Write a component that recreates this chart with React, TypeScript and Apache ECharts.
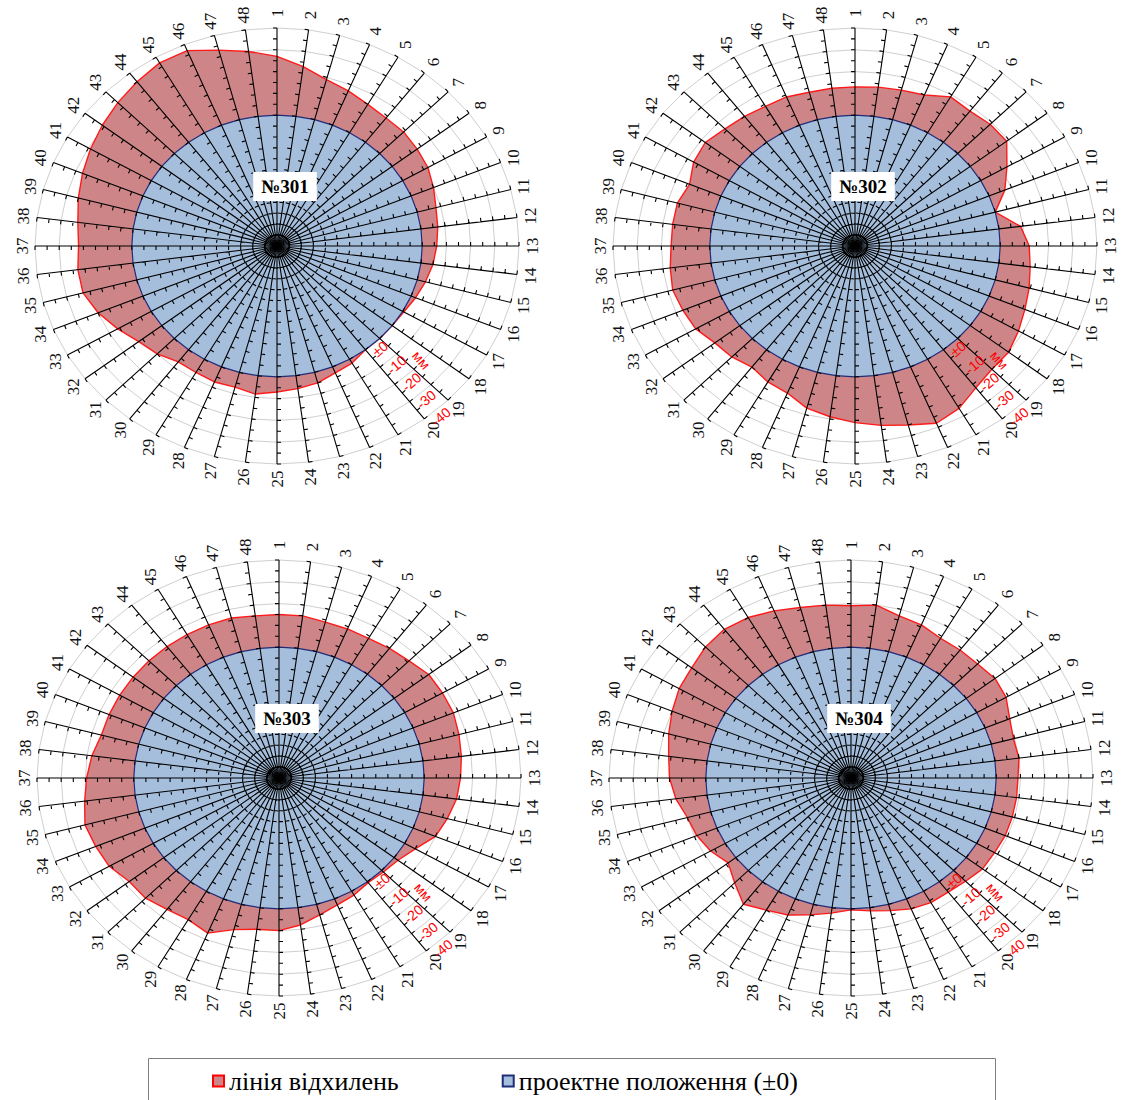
import React, { useEffect, useRef } from "react";
import * as echarts from "echarts";

// Measurement points around the section, clockwise from the top
const POINT_LABELS = [
  "1", "2", "3", "4", "5", "6", "7", "8", "9", "10", "11", "12",
  "13", "14", "15", "16", "17", "18", "19", "20", "21", "22", "23", "24",
  "25", "26", "27", "28", "29", "30", "31", "32", "33", "34", "35", "36",
  "37", "38", "39", "40", "41", "42", "43", "44", "45", "46", "47", "48",
];

// Radial value scale, mm: +60 at the centre, -40 on the rim
const VALUE_AT_CENTRE = 60;
const VALUE_AT_RIM = -40;
const RING_VALUES = [50, 40, 30, 20, 10, 0, -10, -20, -30, -40];
const TICK_VALUES = [55, 50, 45, 40, 35, 30, 25, 20, 15, 10, 5, 0, -5, -10, -15, -20, -25, -30, -35, -40];
const SCALE_VALUES = [0, -10, -20, -30, -40];
const SCALE_LABELS = ["±0", "-10", "-20", "-30", "-40"];
const SCALE_UNIT = "мм";
const SCALE_SPOKE = "20";

// Design position (±0) at every point
const DESIGN = [
  0, 0, 0, 0, 0, 0, 0, 0, 0, 0, 0, 0,
  0, 0, 0, 0, 0, 0, 0, 0, 0, 0, 0, 0,
  0, 0, 0, 0, 0, 0, 0, 0, 0, 0, 0, 0,
  0, 0, 0, 0, 0, 0, 0, 0, 0, 0, 0, 0,
];

// Measured deviations, mm, points 1..48
const DEV_301 = [
  -27, -23, -19, -17, -15, -14, -14, -13, -12, -10, -8, -7,
  -6, -5, -3.5, -2, -0.5, 0, 0, 0, -2, -3, -5, -6,
  -7, -8.5, -7, -7.5, -7, -7, -10, -12, -16, -20, -23, -23,
  -22, -23, -25, -27, -29, -31, -33, -35, -37, -37, -33, -30,
];
const DEV_302 = [
  -13, -13.5, -14, -15, -19, -18, -19, -19, -12.5, -7, 0, -9,
  -12, -13, -14.5, -16, -18, -20, -20, -22, -26, -28, -25, -23,
  -21, -19, -17, -13, -12, -10, -12, -13, -16, -17, -18, -17,
  -16, -16, -16, -14, -17, -18, -16, -15, -14, -14, -13, -13,
];
const DEV_303 = [
  -15, -15, -14, -14, -14, -15, -16, -18, -18, -18, -17, -16,
  -15, -14, -12, -10, -5, -2, -1, -0.5, -2, -3, -5, -8,
  -10, -10, -12, -17, -15, -16, -18, -18, -21, -22, -23, -21,
  -19.5, -18, -16, -16, -16, -16, -16, -16, -16, -16, -16, -15,
];
const DEV_304 = [
  -19, -20, -17, -16, -14, -14, -14, -15, -14, -11, -9.5, -10,
  -9, -9, -9, -9, -8.5, -8.5, -7, -6, -6, -5, -3, -1.5,
  -0.5, -2.5, -5, -8, -10, -13, -8, -4, -7, -9, -10, -13,
  -15, -16, -18, -20, -22, -23, -25, -26, -25, -23, -21, -20,
];

const TITLES = ["№301", "№302", "№303", "№304"];
const DEVIATIONS = [DEV_301, DEV_302, DEV_303, DEV_304];

const SERIES_DEV = "лінія відхилень";
const SERIES_DESIGN = "проектне положення (±0)";

// Layout (pixels)
const CENTRES = [
  [277, 246],
  [855, 246],
  [279, 778],
  [851, 778],
];
const RX = 242;
const RY = 218;
const TICK_LEN = 4;

const RED_FILL = "#CE8587";
const RED_LINE = "#FF1A1A";
const BLUE_FILL = "#A5BEDC";
const BLUE_LINE = "#1F2C78";
const SERIF = "Liberation Serif";
const SANS = "Liberation Sans";

const SPAN = VALUE_AT_CENTRE - VALUE_AT_RIM;

// value on spoke i -> data coordinates of the cartesian helper grid
function toXY(i: number, v: number): number[] {
  const rho = VALUE_AT_CENTRE - v;
  const a = (i * 2 * Math.PI) / POINT_LABELS.length;
  return [rho * Math.sin(a), rho * Math.cos(a)];
}

function spokeFrame(api: any, i: number) {
  const c = api.coord([0, 0]);
  const o = api.coord(toXY(i, VALUE_AT_RIM));
  const dx = o[0] - c[0];
  const dy = o[1] - c[1];
  const len = Math.hypot(dx, dy);
  const ux = dx / len;
  const uy = dy / len;
  return { c, o, ux, uy, px: uy, py: -ux };
}

function polygonSeries(name: string, values: number[], k: number, fill: string, stroke: string, width: number, z: number) {
  return {
    type: "custom",
    name,
    xAxisIndex: k,
    yAxisIndex: k,
    z,
    silent: true,
    itemStyle: { color: fill },
    data: values.map((v, i) => [i, v]),
    renderItem: (params: any, api: any) => {
      if (params.dataIndex !== 0) return null;
      const pts = values.map((v, i) => api.coord(toXY(i, v)));
      return {
        type: "polygon",
        shape: { points: pts },
        style: { fill, stroke, lineWidth: width, lineJoin: "round" },
      };
    },
  };
}

function buildOption() {
  const grid: any[] = [];
  const xAxis: any[] = [];
  const yAxis: any[] = [];
  const series: any[] = [];
  const title: any[] = [];

  CENTRES.forEach(([cx, cy], k) => {
    grid.push({
      left: cx - RX,
      top: cy - RY,
      width: 2 * RX,
      height: 2 * RY,
      containLabel: false,
      outerBoundsMode: "none",
    });
    xAxis.push({ gridIndex: k, type: "value", min: -SPAN, max: SPAN, show: false });
    yAxis.push({ gridIndex: k, type: "value", min: -SPAN, max: SPAN, show: false });

    // grey rings every 10 mm
    series.push({
      type: "custom",
      xAxisIndex: k,
      yAxisIndex: k,
      z: 1,
      silent: true,
      data: RING_VALUES.map((v) => [0, v]),
      renderItem: (params: any, api: any) => {
        const v = RING_VALUES[params.dataIndex];
        const pts = POINT_LABELS.map((_, i) => api.coord(toXY(i, v)));
        return {
          type: "polygon",
          shape: { points: pts },
          style: { fill: "none", stroke: "#CFCFCF", lineWidth: 1 },
        };
      },
    });

    series.push(polygonSeries(SERIES_DEV, DEVIATIONS[k], k, RED_FILL, RED_LINE, 1.4, 2));
    series.push(polygonSeries(SERIES_DESIGN, DESIGN, k, BLUE_FILL, BLUE_LINE, 1.2, 3));

    // spokes with 5 mm ticks and point numbers
    series.push({
      type: "custom",
      xAxisIndex: k,
      yAxisIndex: k,
      z: 4,
      silent: true,
      data: POINT_LABELS.map((_, i) => [i, 0]),
      renderItem: (params: any, api: any) => {
        const i = params.dataIndex;
        const f = spokeFrame(api, i);
        let d = `M${f.c[0]} ${f.c[1]}L${f.o[0]} ${f.o[1]}`;
        TICK_VALUES.forEach((t) => {
          const p = api.coord(toXY(i, t));
          d += `M${p[0]} ${p[1]}l${f.px * TICK_LEN} ${f.py * TICK_LEN}`;
        });
        const gap = 13 + Math.abs(f.uy) * 2;
        return {
          type: "group",
          children: [
            {
              type: "path",
              shape: { pathData: d },
              style: { fill: "none", stroke: "#000", lineWidth: 1.1 },
            },
            {
              type: "text",
              x: f.o[0] + f.ux * gap,
              y: f.o[1] + f.uy * gap,
              rotation: Math.PI / 2,
              style: {
                text: POINT_LABELS[i],
                fill: "#111",
                fontSize: 17,
                fontFamily: SERIF,
                align: "center",
                verticalAlign: "middle",
              },
            },
          ],
        };
      },
    });

    // radial scale on one spoke
    series.push({
      type: "custom",
      xAxisIndex: k,
      yAxisIndex: k,
      z: 5,
      silent: true,
      data: SCALE_VALUES.map((v) => [0, v]),
      renderItem: (params: any, api: any) => {
        const idx = params.dataIndex;
        const i = POINT_LABELS.indexOf(SCALE_SPOKE);
        const f = spokeFrame(api, i);
        const phi = Math.atan2(-f.uy, f.ux);
        const q = api.coord(toXY(i, SCALE_VALUES[idx]));
        const children: any[] = [
          {
            type: "text",
            x: q[0] + f.ux * 9 + f.px * 4,
            y: q[1] + f.uy * 9 + f.py * 4,
            rotation: phi + Math.PI / 2,
            style: {
              text: SCALE_LABELS[idx],
              fill: "#FF0000",
              fontSize: 14,
              fontFamily: SANS,
              align: "left",
              verticalAlign: "middle",
            },
          },
        ];
        if (idx === 0) {
          const m = api.coord(toXY(i, (SCALE_VALUES[1] + SCALE_VALUES[2]) / 2));
          children.push({
            type: "text",
            x: m[0] + f.ux * 10 + f.px * 36,
            y: m[1] + f.uy * 10 + f.py * 36,
            rotation: phi,
            style: {
              text: SCALE_UNIT,
              fill: "#FF0000",
              fontSize: 14,
              fontFamily: SANS,
              align: "center",
              verticalAlign: "middle",
            },
          });
        }
        return { type: "group", children };
      },
    });

    title.push({
      text: TITLES[k],
      left: cx,
      top: cy - 74,
      textAlign: "center",
      backgroundColor: "#FFFFFF",
      padding: [5, 8],
      textStyle: {
        fontFamily: SERIF,
        fontSize: 19,
        fontWeight: "bold",
        color: "#000",
      },
    });
  });

  return {
    animation: false,
    backgroundColor: "#FFFFFF",
    title,
    grid,
    xAxis,
    yAxis,
    series,
    legend: {
      left: 207,
      top: 1063,
      orient: "horizontal",
      itemGap: 103,
      itemWidth: 11,
      itemHeight: 11,
      itemTextGap: 4,
      selectedMode: false,
      textStyle: { fontFamily: SERIF, fontSize: 26, color: "#000" },
      data: [
        { name: SERIES_DEV, icon: "rect", itemStyle: { color: RED_FILL, borderColor: "#FF0000", borderWidth: 2 } },
        { name: SERIES_DESIGN, icon: "rect", itemStyle: { color: BLUE_FILL, borderColor: BLUE_LINE, borderWidth: 2 } },
      ],
    },
    graphic: [
      {
        type: "rect",
        shape: { x: 148.5, y: 1058.5, width: 847, height: 60 },
        style: { fill: "none", stroke: "#7F7F7F", lineWidth: 1 },
        z: 0,
      },
    ],
  };
}

export default function App() {
  const ref = useRef<HTMLDivElement>(null);
  useEffect(() => {
    if (!ref.current) return;
    const chart = echarts.init(ref.current, null, { renderer: "svg" });
    chart.setOption(buildOption() as any);
    return () => chart.dispose();
  }, []);
  return (
    <div
      ref={ref}
      style={{ position: "absolute", left: 0, top: 0, width: 1125, height: 1100, background: "#fff" }}
    />
  );
}
